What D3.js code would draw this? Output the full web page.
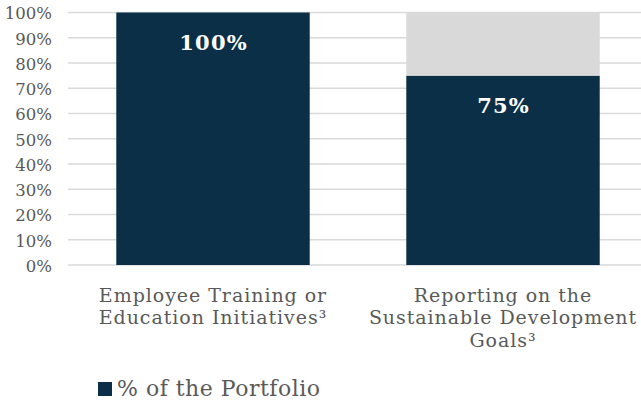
<!DOCTYPE html>
<html>
<head>
<meta charset="utf-8">
<script src="https://cdn.jsdelivr.net/npm/d3@7"></script>
<style>
  html, body { margin: 0; padding: 0; background: #fff; }
  svg { display: block; overflow: hidden; }
  text { font-family: Georgia, "DejaVu Serif", serif; }
</style>
</head>
<body>
<svg id="chart" width="641" height="407"></svg>
<script>
const categories = [
  ["Employee Training or", "Education Initiatives³"],
  ["Reporting on the", "Sustainable Development", "Goals³"]
];
const portfolioValues = [1.00, 0.75];
const remainderValues = [0.00, 0.25];
const yTicks = [0, 0.1, 0.2, 0.3, 0.4, 0.5, 0.6, 0.7, 0.8, 0.9, 1.0];
const seriesName = "% of the Portfolio";

const navy = "#0b2f47";
const grey = "#d9d9d9";
const textColor = "#595959";

const svg = d3.select("#chart");

const x = d3.scaleBand()
  .domain(d3.range(categories.length))
  .range([68, 648])
  .paddingInner(0.333)
  .paddingOuter(0.1665);

const y = d3.scaleLinear().domain([0, 1]).range([265, 12.5]);

// gridlines
svg.append("g")
  .selectAll("line")
  .data(yTicks)
  .join("line")
  .attr("x1", 68).attr("x2", 648)
  .attr("y1", d => y(d)).attr("y2", d => y(d))
  .attr("stroke", grey)
  .attr("stroke-width", 1.3);

// y axis tick labels
const yAxis = d3.axisLeft(y).tickValues(yTicks).tickFormat(d3.format(".0%")).tickSize(0).tickPadding(0);
const gy = svg.append("g").attr("transform", "translate(52,0)").call(yAxis);
gy.select(".domain").remove();
gy.selectAll("text")
  .attr("fill", textColor)
  .style("font-family", 'Georgia, "DejaVu Serif", serif')
  .style("font-size", "16.5px")
  .attr("dy", "0.38em");

// stacked bars
const stackData = categories.map((c, i) => ({ i, portfolio: portfolioValues[i], remainder: remainderValues[i] }));
const stack = d3.stack().keys(["portfolio", "remainder"])(stackData);
const colors = { portfolio: navy, remainder: grey };

svg.append("g")
  .selectAll("g")
  .data(stack)
  .join("g")
  .attr("fill", s => colors[s.key])
  .selectAll("rect")
  .data(s => s)
  .join("rect")
  .attr("x", d => x(d.data.i))
  .attr("width", x.bandwidth())
  .attr("y", d => y(d[1]))
  .attr("height", d => y(d[0]) - y(d[1]));

// data labels
svg.append("g")
  .selectAll("text")
  .data(stackData)
  .join("text")
  .attr("x", d => x(d.i) + x.bandwidth() / 2 + 0.6)
  .attr("y", d => y(d.portfolio) + 37)
  .attr("text-anchor", "middle")
  .attr("fill", "#ffffff")
  .style("font-weight", "bold")
  .style("font-size", "21px")
  .style("letter-spacing", "1.2px")
  .text(d => d3.format(".0%")(d.portfolio));

// category labels
const catG = svg.append("g");
categories.forEach((lines, i) => {
  const t = catG.append("text")
    .attr("x", x(i) + x.bandwidth() / 2)
    .attr("y", 302)
    .attr("text-anchor", "middle")
    .attr("fill", textColor)
    .style("font-size", "19px")
    .style("letter-spacing", "0.95px");
  lines.forEach((ln, k) => {
    t.append("tspan")
      .attr("x", x(i) + x.bandwidth() / 2)
      .attr("dy", k === 0 ? 0 : 22.3)
      .text(ln);
  });
});

// legend
const lg = svg.append("g").attr("transform", "translate(98,382)");
lg.append("rect").attr("width", 14).attr("height", 14).attr("fill", navy);
lg.append("text")
  .attr("x", 19).attr("y", 14)
  .attr("fill", textColor)
  .style("font-size", "22px")
  .style("letter-spacing", "0.5px")
  .text(seriesName);
</script>
</body>
</html>
